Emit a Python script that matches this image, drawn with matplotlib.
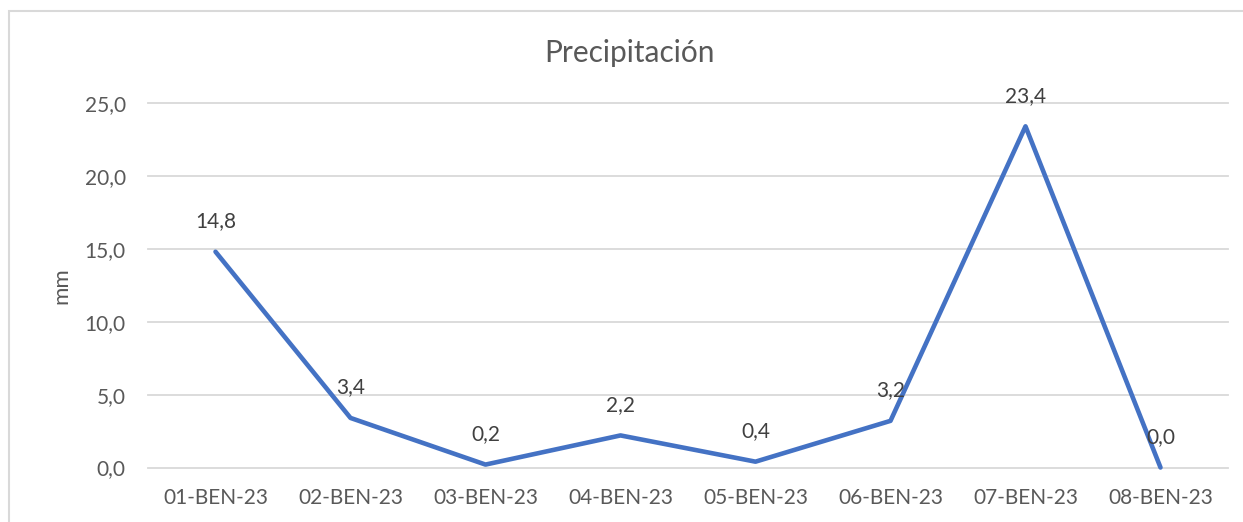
import matplotlib
matplotlib.use("Agg")
import matplotlib.pyplot as plt
from matplotlib.patches import Rectangle

categories = ["01-BEN-23", "02-BEN-23", "03-BEN-23", "04-BEN-23",
              "05-BEN-23", "06-BEN-23", "07-BEN-23", "08-BEN-23"]
precip = [14.8, 3.4, 0.2, 2.2, 0.4, 3.2, 23.4, 0.0]
yticks = [0, 5, 10, 15, 20, 25]

plt.rcParams['font.family'] = ['Lato', 'DejaVu Sans']

W, H = 1243, 522
fig = plt.figure(figsize=(W / 100, H / 100), dpi=100)
fig.patch.set_facecolor("white")

# outer chart border
fig.add_artist(Rectangle((9 / W, -0.1), 1.2, 1 - 11 / H + 0.1, transform=fig.transFigure,
                         fill=False, edgecolor="#D9D9D9", linewidth=1.5))

ax = fig.add_axes([148 / W, 1 - 467.5 / H, (1228 - 148) / W, (467.5 - 103) / H])
x = list(range(len(categories)))
ax.plot(x, precip, color="#4472C4", linewidth=3.3, solid_capstyle="round",
        solid_joinstyle="round", zorder=3, clip_on=False)

for xi, v in zip(x, precip):
    ax.annotate(f"{v:.1f}".replace(".", ","), (xi, v), xytext=(0, 22),
                textcoords="offset points", ha="center", va="center",
                fontsize=15, color="#404040", zorder=4)

ax.set_xlim(-0.5, len(categories) - 0.5)
ax.set_ylim(0, 25)
ax.set_yticks(yticks)
ax.set_yticklabels([f"{t:.1f}".replace(".", ",") for t in yticks])
ax.set_xticks(x)
ax.set_xticklabels(categories)
ax.tick_params(axis="both", length=0, labelsize=15, labelcolor="#595959")
ax.tick_params(axis="x", pad=15)
ax.tick_params(axis="y", pad=16)
ax.grid(axis="y", color="#D9D9D9", linewidth=1.3, clip_on=False)
ax.set_axisbelow(True)
for s in ax.spines.values():
    s.set_visible(False)
for gl in ax.get_ygridlines():
    gl.set_clip_on(False)

fig.text(61.5 / W, 1 - 286 / H, "mm", rotation=90, ha="center", va="center",
         fontsize=16, color="#595959")
fig.text(629.5 / W, 1 - 62 / H, "Precipitación", ha="center", va="baseline",
         fontsize=21.5, color="#595959")

fig.savefig("out.png", dpi=100)
